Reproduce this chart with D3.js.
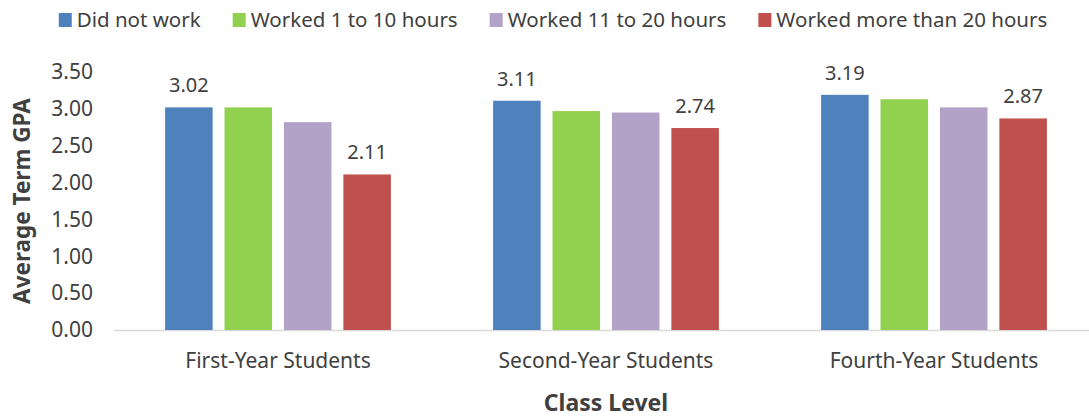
<!DOCTYPE html>
<html>
<head>
<meta charset="utf-8">
<script src="https://cdn.jsdelivr.net/npm/d3@7"></script>
<style>
  html, body { margin: 0; padding: 0; background: #fff; }
  svg { display: block; font-family: "Noto Sans", "Open Sans", sans-serif; }
</style>
</head>
<body>
<div id="chart"></div>
<script>
// Average term GPA by class level and hours worked
const categories = ['First-Year Students', 'Second-Year Students', 'Fourth-Year Students'];
const seriesNames = ['Did not work', 'Worked 1 to 10 hours', 'Worked 11 to 20 hours', 'Worked more than 20 hours'];
const seriesColors = ['#4f81bd', '#92d050', '#b3a2c7', '#c0504d'];
const didNotWork = [3.02, 3.11, 3.19];
const worked1to10 = [3.02, 2.97, 3.13];
const worked11to20 = [2.82, 2.95, 3.02];
const workedOver20 = [2.11, 2.74, 2.87];
const yTicks = [0, 0.5, 1, 1.5, 2, 2.5, 3, 3.5];
// which series carry a value label
const labelledSeries = [0, 3];

const seriesValues = [didNotWork, worked1to10, worked11to20, workedOver20];

const width = 1089, height = 417;
const margin = { top: 72, right: -9, bottom: 87, left: 114 };
const textColor = '#404040';

const svg = d3.select('#chart').append('svg')
  .attr('width', width)
  .attr('height', height);

const x0 = d3.scaleBand()
  .domain(categories)
  .range([margin.left, width - margin.right])
  .paddingInner(0)
  .paddingOuter(0);

const x1 = d3.scaleBand()
  .domain(d3.range(seriesNames.length))
  .range([0, x0.bandwidth()])
  .paddingInner(0.2)
  .paddingOuter(0.86);

const y = d3.scaleLinear()
  .domain([0, 3.5])
  .range([height - margin.bottom, margin.top]);

// Y axis labels (no axis line)
const yAxis = svg.append('g')
  .attr('transform', 'translate(93,0)')
  .call(d3.axisLeft(y).tickValues(yTicks).tickFormat(d3.format('.2f')).tickSize(0).tickPadding(0));
yAxis.select('.domain').remove();
yAxis.selectAll('text')
  .attr('font-family', '"Noto Sans", sans-serif')
  .attr('font-size', 21)
  .attr('fill', textColor);

// X baseline
svg.append('line')
  .attr('x1', margin.left)
  .attr('x2', width)
  .attr('y1', y(0) + 0.5)
  .attr('y2', y(0) + 0.5)
  .attr('stroke', '#d9d9d9')
  .attr('stroke-width', 1.5);

// Bars
const rows = categories.map(function(c, i) {
  return { category: c, values: seriesValues.map(function(s) { return s[i]; }) };
});

const group = svg.append('g').selectAll('g')
  .data(rows)
  .enter().append('g')
  .attr('transform', function(d) { return 'translate(' + x0(d.category) + ',0)'; });

group.selectAll('rect')
  .data(function(d) { return d.values.map(function(v, k) { return { k: k, v: v }; }); })
  .enter().append('rect')
  .attr('x', function(d) { return x1(d.k); })
  .attr('width', x1.bandwidth())
  .attr('y', function(d) { return y(d.v); })
  .attr('height', function(d) { return y(0) - y(d.v); })
  .attr('fill', function(d) { return seriesColors[d.k]; });

group.selectAll('text.value')
  .data(function(d) {
    return d.values.map(function(v, k) { return { k: k, v: v }; })
      .filter(function(d) { return labelledSeries.indexOf(d.k) >= 0; });
  })
  .enter().append('text')
  .attr('class', 'value')
  .attr('x', function(d) { return x1(d.k) + x1.bandwidth() / 2; })
  .attr('y', function(d) { return y(d.v) - 15; })
  .attr('text-anchor', 'middle')
  .attr('font-size', 20)
  .attr('fill', textColor)
  .text(function(d) { return d3.format('.2f')(d.v); });

// Category labels
const xAxis = svg.append('g')
  .attr('transform', 'translate(0,' + y(0) + ')')
  .call(d3.axisBottom(x0).tickSize(0).tickPadding(23));
xAxis.select('.domain').remove();
xAxis.selectAll('text')
  .attr('font-family', '"Noto Sans", sans-serif')
  .attr('font-size', 21)
  .attr('fill', textColor);

// Axis titles
svg.append('text')
  .attr('x', x0(categories[1]) + x0.bandwidth() / 2)
  .attr('y', 411)
  .attr('text-anchor', 'middle')
  .attr('font-size', 23)
  .attr('font-weight', 'bold')
  .attr('fill', textColor)
  .text('Class Level');

svg.append('text')
  .attr('transform', 'translate(30,' + y(1.75) + ') rotate(-90)')
  .attr('text-anchor', 'middle')
  .attr('font-size', 22.5)
  .attr('font-weight', 'bold')
  .attr('fill', textColor)
  .text('Average Term GPA');

// Legend
const legendGap = 32;
const legend = svg.append('g');
let lx = 0;
seriesNames.forEach(function(name, i) {
  const item = legend.append('g').attr('transform', 'translate(' + lx + ',0)');
  item.append('rect')
    .attr('x', 0).attr('y', 13)
    .attr('width', 13).attr('height', 14)
    .attr('fill', seriesColors[i]);
  const t = item.append('text')
    .attr('x', 18).attr('y', 27)
    .attr('font-size', 20.5)
    .attr('fill', textColor)
    .text(name);
  lx += 18 + t.node().getComputedTextLength() + legendGap;
});
const legendWidth = lx - legendGap;
legend.attr('transform', 'translate(' + (553 - legendWidth / 2) + ',0)');
</script>
</body>
</html>
